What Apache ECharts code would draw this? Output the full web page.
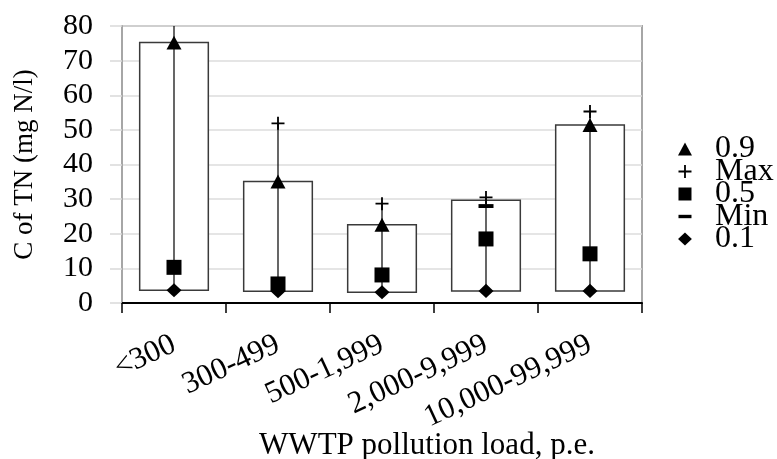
<!DOCTYPE html>
<html>
<head>
<meta charset="utf-8">
<script src="https://cdn.jsdelivr.net/npm/echarts@6/dist/echarts.min.js"></script>
<style>
  html, body { margin: 0; padding: 0; background: #fff; }
  #chart { width: 777px; height: 459px; }
</style>
</head>
<body>
<div id="chart"></div>
<script>
// values (mg N/l)
var categories = ['<300', '300-499', '500-1,999', '2,000-9,999', '10,000-99,999'];
var p90 = [75.2, 35.1, 22.6, 29.7, 51.4];
var p90Marks = [75.2, 35.1, 22.6, null, 51.4];   // no triangle drawn for 2,000-9,999
var maxV = [86, 51.9, 28.7, 30.5, 55.3];         // first one runs off the top
var p50 = [10.3, 5.5, 8.1, 18.5, 14.2];
var minV = [null, null, null, 28.0, null];
var p10 = [3.7, 3.4, 3.1, 3.5, 3.5];

var FONT = 'Liberation Serif';

var triPath = 'path://M5,0L10,9.3L0,9.3Z';
var plusPath = 'path://M4.3,0H5.7V4.3H10V5.7H5.7V10H4.3V5.7H0V4.3H4.3Z';
var sqPath = 'path://M0,0H10V10H0Z';
// thin bar inside a square box so it keeps its shape in the legend
var dashPath = 'path://M0,0M10,10M0,3.7H10V6.3H0Z';
var diaPath = 'path://M5,0L10,4.7L5,9.4L0,4.7Z';

var boxData = categories.map(function (c, i) {
  return [i, p10[i], p90[i], maxV[i]];
});

function markSeries(name, values, symbol, size, z) {
  return {
    name: name,
    type: 'scatter',
    symbol: symbol,
    symbolSize: size,
    symbolKeepAspect: true,
    itemStyle: { color: '#000', opacity: 1 },
    z: z,
    data: values.map(function (v, i) { return v == null ? [i, null] : [i, v]; })
  };
}

var chart = echarts.init(document.getElementById('chart'));

var option = {
  backgroundColor: '#fff',
  animation: false,
  grid: {
    left: 122, right: 135, top: 26, bottom: 156,
    containLabel: false,
    outerBoundsMode: 'none',
    show: true, borderColor: '#a6a6a6', borderWidth: 2
  },
  legend: {
    orient: 'vertical',
    align: 'left',
    left: 678,
    top: 133,
    padding: 0,
    itemWidth: 14,
    itemHeight: 13,
    itemGap: -9.5,
    symbolKeepAspect: true,
    selectedMode: false,
    textStyle: { fontFamily: FONT, fontSize: 32, color: '#000', padding: [0, 0, 0, 18] },
    data: [
      { name: '0.9', icon: triPath },
      { name: 'Max', icon: plusPath },
      { name: '0.5', icon: sqPath },
      { name: 'Min', icon: dashPath },
      { name: '0.1', icon: diaPath }
    ]
  },
  xAxis: {
    type: 'category',
    data: categories,
    boundaryGap: true,
    name: 'WWTP pollution load, p.e.',
    nameLocation: 'middle',
    nameGap: 127,
    nameMoveOverlap: false,
    nameTextStyle: { fontFamily: FONT, fontSize: 31, color: '#000', padding: [0, 0, 0, 90] },
    axisLine: { lineStyle: { color: '#000', width: 2 } },
    axisTick: { show: true, length: 10, lineStyle: { color: '#000', width: 1.5 } },
    axisLabel: {
      rotate: 25, margin: 40, interval: 0,
      fontFamily: FONT, fontSize: 31, color: '#000'
    },
    splitLine: { show: false }
  },
  yAxis: {
    type: 'value',
    min: 0, max: 80, interval: 10,
    name: 'C of TN (mg N/l)',
    nameLocation: 'middle',
    nameGap: 84,
    nameMoveOverlap: false,
    nameTextStyle: { fontFamily: FONT, fontSize: 27, color: '#000' },
    axisLine: { show: true, lineStyle: { color: '#a6a6a6', width: 2 } },
    axisTick: { show: true, length: 12, lineStyle: { color: '#d9d9d9', width: 1.5 } },
    axisLabel: { margin: 29, fontFamily: FONT, fontSize: 30, color: '#000' },
    splitLine: { lineStyle: { color: '#dcdcdc', width: 1.5 } }
  },
  series: [
    {
      name: 'box',
      type: 'custom',
      clip: true,
      z: 2,
      data: boxData,
      renderItem: function (params, api) {
        var x = api.value(0);
        var lo = api.coord([x, api.value(1)]);
        var hi = api.coord([x, api.value(2)]);
        var top = api.coord([x, api.value(3)]);
        var w = api.size([1, 0])[0] * 0.66;
        return {
          type: 'group',
          children: [
            {
              type: 'rect',
              shape: { x: lo[0] - w / 2, y: hi[1], width: w, height: lo[1] - hi[1] },
              style: { fill: '#fff', stroke: '#3a3a3a', lineWidth: 1.5 }
            },
            {
              type: 'line',
              shape: { x1: lo[0], y1: lo[1], x2: lo[0], y2: top[1] },
              style: { stroke: '#000', lineWidth: 1.2 }
            }
          ]
        };
      }
    },
    markSeries('Min', minV, dashPath, 15, 3),
    markSeries('0.1', p10, diaPath, 15, 4),
    markSeries('0.5', p50, sqPath, 15, 5),
    markSeries('0.9', p90Marks, triPath, 15, 6),
    markSeries('Max', maxV, plusPath, 13, 7)
  ]
};

chart.setOption(option);
</script>
</body>
</html>
